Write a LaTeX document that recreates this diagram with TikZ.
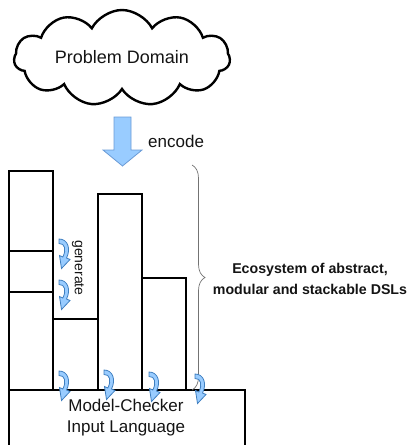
\documentclass[tikz,border=0pt]{standalone}
\usepackage{fontspec}
\setmainfont{Liberation Sans}
\usetikzlibrary{shapes.symbols,decorations.pathreplacing}
\definecolor{afill}{HTML}{99CCFF}
\definecolor{aline}{HTML}{3F7FC0}
\definecolor{encline}{HTML}{6A9BD6}
\begin{document}
\begin{tikzpicture}[x=1pt,y=-1pt,
  box/.style={draw=black, line width=2pt, anchor=north west, inner sep=0pt},
  curvarr/.pic={\filldraw[fill=afill, draw=aline, line width=0.8pt]
     (0,0) .. controls (9,0) and (12,10) .. (7.5,19) -- (11,20.5) -- (2.5,29.5)
     -- (0.5,16.5) -- (3.8,18) .. controls (7.5,11) and (6,4) .. (0,4.5) -- cycle;},
  lbl/.style={inner sep=0pt, text=black!92}
]
\useasboundingbox (0,0) rectangle (419,445);
\clip (0,0) rectangle (419,445);
% cloud
\node[cloud, cloud puffs=11, cloud puff arc=125, cloud ignores aspect,
      minimum width=216, minimum height=96, draw, line width=2.4pt] (dom) at (122,58) {};
\node[lbl, font=\fontsize{18}{21}\selectfont] (domtext) at (122,57) {Problem Domain};
% encode arrow
\filldraw[fill=afill, draw=encline, line width=0.8pt]
  (114,117) -- (131,117) -- (131,150) -- (142,150) -- (122.5,166) -- (103,150) -- (114,150) -- cycle;
\node[lbl, anchor=west, font=\fontsize{17}{20}\selectfont] (enc) at (148,141) {encode};
% boxes
\node[box, minimum width=44, minimum height=80] (l1) at (8,170) {};
\node[box, minimum width=44, minimum height=41] (l2) at (8,250) {};
\node[box, minimum width=44, minimum height=98] (l3) at (8,291) {};
\node[box, minimum width=45, minimum height=71] (r2) at (52,318) {};
\node[box, minimum width=44, minimum height=196] (r3) at (97,193) {};
\node[box, minimum width=44, minimum height=112] (r4) at (141,277) {};
\node[box, minimum width=236, minimum height=80] (base) at (8,389) {};
% texts
\node[lbl, rotate=-90, font=\fontsize{14}{16}\selectfont] (gen) at (78,268) {generate};
\node[lbl, align=center, font=\fontsize{17}{21}\selectfont] (mc) at (126,418) {Model-Checker\\Input Language};
\node[lbl, align=center, font=\bfseries\fontsize{14.2}{21}\selectfont] (eco) at (310,279) {Ecosystem of abstract,\\modular and stackable DSLs};
% brace
\coordinate (bt) at (192,165);
\coordinate (bb) at (192,390);
\draw[decorate, decoration={brace, amplitude=13pt}, black!55, line width=0.7pt] (bt) -- (bb);
% curved arrows
\pic (c1) at (59,239) {curvarr};
\pic (c2) at (59,280) {curvarr};
\pic (c3) at (59,371) {curvarr};
\pic (c4) at (104,370) {curvarr};
\pic (c5) at (149,372) {curvarr};
\pic (c6) at (195,374) {curvarr};
\end{tikzpicture}
\end{document}
